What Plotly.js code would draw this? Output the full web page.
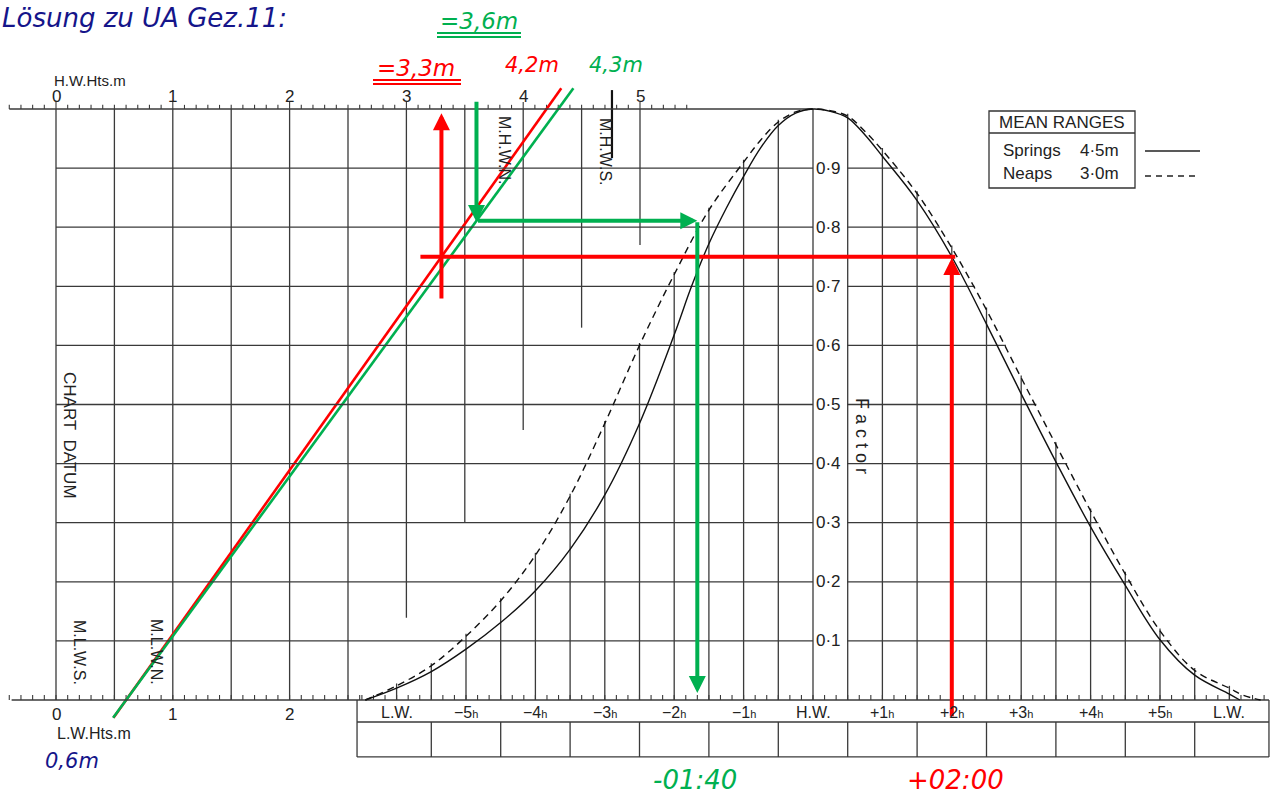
<!DOCTYPE html>
<html><head><meta charset="utf-8">
<script src="https://cdn.plot.ly/plotly-3.0.1.min.js"></script>
<style>html,body{margin:0;padding:0;background:#fff}#chart{width:1274px;height:794px}</style>
</head><body><div id="chart"></div>
<script>
// ---------------- data ----------------
const heightTickValues = [0, 1, 2, 3, 4, 5];
const lowHeightTickValues = [0, 1, 2];
const heightGridLines = [0, 0.5, 1, 1.5, 2, 2.5, 3, 3.5, 4, 4.5, 5];
const heightGridBottom = [0, 0, 0, 0, 0, 0, 0.139, 0.30, 0.457, 0.63, 0.77];
const factorLevels = [0.1, 0.2, 0.3, 0.4, 0.5, 0.6, 0.7, 0.8, 0.9];
const factorLabels = ['0·1', '0·2', '0·3', '0·4', '0·5', '0·6', '0·7', '0·8', '0·9'];
const hourTicks = [-6, -5, -4, -3, -2, -1, 0, 1, 2, 3, 4, 5, 6];
const hourLabels = ['L.W.', '−5', '−4', '−3', '−2', '−1', 'H.W.', '+1', '+2', '+3', '+4', '+5', 'L.W.'];
const springsHours  = [-6.45, -6, -5.5, -5, -4.5, -4, -3.5, -3, -2.5, -2, -1.75, -1.5, -1.25, -1, -0.75, -0.5, -0.25, 0, 0.25, 0.5, 0.75, 1, 1.5, 2, 2.5, 3, 3.5, 4, 4.5, 5, 5.5, 6, 6.15];
const springsFactor = [0, 0.02, 0.048, 0.086, 0.131, 0.185, 0.255, 0.347, 0.468, 0.618, 0.70, 0.772, 0.832, 0.886, 0.935, 0.972, 0.993, 1.0, 0.996, 0.985, 0.956, 0.92, 0.845, 0.75, 0.636, 0.518, 0.403, 0.293, 0.194, 0.102, 0.042, 0.01, 0];
const neapsHours    = [-6.45, -6, -5.5, -5, -4.5, -4, -3.5, -3, -2.5, -2, -1.5, -1, -0.75, -0.5, -0.25, 0, 0.25, 0.5, 0.75, 1, 1.5, 2, 2.5, 3, 3.5, 4, 4.5, 5, 5.5, 6, 6.2, 6.45];
const neapsFactor   = [0, 0.024, 0.058, 0.108, 0.168, 0.245, 0.345, 0.468, 0.6, 0.72, 0.829, 0.91, 0.948, 0.978, 0.995, 1.0, 0.997, 0.988, 0.962, 0.93, 0.857, 0.765, 0.66, 0.545, 0.432, 0.32, 0.213, 0.117, 0.05, 0.02, 0.008, 0];
const lwHeight = 0.6;
const hwHeightRed = 4.2;
const hwHeightGreen = 4.3;
const redHeight = 3.3;
const redFactor = 0.75;
const redTime = 2.0;
const greenHeight = 3.6;
const greenTime = -1.667;
const mhwsHeight = 4.76;
const legendRows = [['Springs', '4·5m'], ['Neaps', '3·0m']];

// ---------------- geometry of the sheet ----------------
const W = 1274, H = 794;
const M0 = 56, PXM = 116.8, HW0 = 813, PXH = 69.4, F0 = 700, PXF = 591;
const xr = [(0 - M0) / PXM, (W - M0) / PXM];
const x2r = [(0 - HW0) / PXH, (W - HW0) / PXH];
const yr = [(F0 - H) / PXF, F0 / PXF];
const mToH = m => (M0 + PXM * m - HW0) / PXH;
const px = x => x / W, py = y => 1 - y / H;

const GRID = '#3a3a3a';
const RED = '#ff0000', GREEN = '#00b050', NAVY = '#15158a';
const CF = 'Liberation Sans, Arial, sans-serif';
const HF = 'DejaVu Sans, sans-serif';

function interp(xs, ys, x) {
  if (x <= xs[0]) return ys[0];
  for (let i = 0; i < xs.length - 1; i++) {
    if (x >= xs[i] && x <= xs[i + 1]) return ys[i] + (ys[i + 1] - ys[i]) * (x - xs[i]) / (xs[i + 1] - xs[i]);
  }
  return ys[ys.length - 1];
}
function segs(list) {
  const x = [], y = [];
  list.forEach(([x0, y0, x1, y1]) => { x.push(x0, x1, null); y.push(y0, y1, null); });
  return { x, y };
}
function lt(s, axis, color, width, dash, shape) {
  return { type: 'scatter', mode: 'lines', x: s.x, y: s.y, xaxis: axis, yaxis: 'y',
    line: { color, width, dash: dash || 'solid', shape: shape || 'linear', smoothing: 1.0 },
    hoverinfo: 'skip', showlegend: false, connectgaps: false };
}

const traces = [];
// height grid verticals
traces.push(lt(segs(heightGridLines.map((m, i) => [m, 1, m, heightGridBottom[i]])), 'x', GRID, 1.3));
// rising-side horizontals + top and bottom axis lines
const hl = factorLevels.map(f => [mToH(0), f, 0, f]);
hl.push([mToH(-0.4), 1, 0, 1]);
hl.push([mToH(-0.38), 0, 6.57, 0]);
traces.push(lt(segs(hl), 'x2', GRID, 1.3));
// time grid verticals up to the curves
const tv = [];
for (let k = -12; k <= 12; k++) {
  if (k === 0) continue;
  const h = k / 2;
  tv.push([h, 0, h, Math.max(interp(springsHours, springsFactor, h), interp(neapsHours, neapsFactor, h)) + 0.004]);
}
tv.push([0, 0, 0, 1]);
traces.push(lt(segs(tv), 'x2', GRID, 1.3));
// falling-side horizontals, ending at the curves
const i0 = neapsHours.indexOf(0);
const fh = factorLevels.map(f => {
  let hEnd = 0;
  for (let i = i0; i < neapsHours.length - 1; i++) {
    if (neapsFactor[i] >= f && neapsFactor[i + 1] <= f) {
      hEnd = neapsHours[i] + (neapsFactor[i] - f) / (neapsFactor[i] - neapsFactor[i + 1]) * (neapsHours[i + 1] - neapsHours[i]);
      break;
    }
  }
  return [0.49, f, hEnd + 0.02, f];
});
traces.push(lt(segs(fh), 'x2', GRID, 1.3));
// ticks
const tk = [];
for (let k = -4; k <= 54; k++) { const m = k / 10; tk.push([m, 1, m, 1 + (k % 10 === 0 ? 0.012 : 0.007)]); }
for (let k = -4; k <= 26; k++) { const m = k / 10; tk.push([m, 0, m, 0.0085]); }
traces.push(lt(segs(tk), 'x', GRID, 1.1));
const tk2 = [];
for (let k = -39; k <= 39; k++) { const h = k / 6; tk2.push([h, 0, h, 0.0085]); }
traces.push(lt(segs(tk2), 'x2', GRID, 1.1));
// time table
const tb = [[-6.57, 0, -6.57, -0.0964], [6.57, 0, 6.57, -0.0964], [-6.57, -0.0372, 6.57, -0.0372], [-6.57, -0.0964, 6.57, -0.0964]];
for (let k = -11; k <= 11; k += 2) tb.push([k / 2, -0.0372, k / 2, -0.0964]);
traces.push(lt(segs(tb), 'x2', GRID, 1.3));
// MHWS mark
traces.push(lt(segs([[mhwsHeight, 1.032, mhwsHeight, 0.917]]), 'x', '#111', 2.2));
// curves
traces.push(lt({ x: springsHours, y: springsFactor }, 'x2', '#111', 1.4, 'solid', 'spline'));
traces.push(lt({ x: neapsHours, y: neapsFactor }, 'x2', '#111', 1.4, '7px,5px', 'spline'));
// range diagonals
const diag = (lw, hw) => segs([[lw + (hw - lw) * -0.03, -0.03, lw + (hw - lw) * 1.035, 1.035]]);
traces.push(lt(diag(lwHeight, hwHeightRed), 'x', RED, 2.6));
traces.push(lt(diag(lwHeight, hwHeightGreen), 'x', GREEN, 2.6));
// red horizontal
traces.push(lt(segs([[mToH(redHeight - 0.18), redFactor, redTime + 0.05, redFactor]]), 'x2', RED, 4));

// ---------------- annotations ----------------
const ann = [];
function txt(x, y, text, opt) { ann.push(Object.assign({ x, y, text, showarrow: false, xanchor: 'center', yanchor: 'middle' }, opt)); }
const greenFactor = (greenHeight - lwHeight) / (hwHeightGreen - lwHeight);
function arrow(xref, x, y, ax, ay, color) {
  ann.push({ xref, yref: 'y', axref: xref, ayref: 'y', x, y, ax, ay, text: '', showarrow: true,
    arrowhead: 2, arrowsize: 0.85, arrowwidth: 4, arrowcolor: color, standoff: 0 });
}
arrow('x', redHeight, 0.993, redHeight, redFactor - 0.073, RED);
arrow('x2', redTime, redFactor - 0.002, redTime, -0.03, RED);
arrow('x', greenHeight, greenFactor - 0.002, greenHeight, 1.015, GREEN);
arrow('x2', greenTime, greenFactor, mToH(greenHeight), greenFactor, GREEN);
arrow('x2', greenTime, 0.012, greenTime, greenFactor, GREEN);

const cfont = { family: CF, size: 17, color: '#222' };
heightTickValues.forEach(m => txt(m, 1.022, String(m), { xref: 'x', yref: 'y', font: cfont }));
lowHeightTickValues.forEach(m => txt(m, -0.024, String(m), { xref: 'x', yref: 'y', font: cfont }));
factorLevels.forEach((f, i) => txt(0.23, f, factorLabels[i], { xref: 'x2', yref: 'y', font: cfont }));
hourTicks.forEach((h, i) => {
  const lab = (h === 0 || Math.abs(h) === 6) ? hourLabels[i] : hourLabels[i] + "<span style='font-size:11px'>h</span>";
  txt(h, -0.021, lab, { xref: 'x2', yref: 'y', font: { family: CF, size: 16, color: '#222' } });
});
const P = { xref: 'paper', yref: 'paper' };
txt(px(52), py(80), 'H.W.Hts.m', Object.assign({ xanchor: 'left', font: { family: CF, size: 15, color: '#222' } }, P));
txt(px(55), py(733), 'L.W.Hts.m', Object.assign({ xanchor: 'left', font: { family: CF, size: 16, color: '#222' } }, P));
txt(px(70), py(435), 'CHART  DATUM', Object.assign({ textangle: 90, font: { family: CF, size: 17, color: '#222' } }, P));
txt(px(862), py(436), 'F a c t o r', Object.assign({ textangle: 90, font: { family: CF, size: 18, color: '#222' } }, P));
txt(px(80), py(652), 'M.L.W.S.', Object.assign({ textangle: 90, font: { family: CF, size: 16, color: '#222' } }, P));
txt(px(157), py(652), 'M.L.W.N.', Object.assign({ textangle: 90, font: { family: CF, size: 16, color: '#222' } }, P));
txt(px(505), py(150), 'M.H.W.N.', Object.assign({ textangle: 90, font: { family: CF, size: 16, color: '#222' } }, P));
txt(px(606), py(152), 'M.H.W.S.', Object.assign({ textangle: 90, font: { family: CF, size: 16, color: '#222' } }, P));
// legend
txt(px(1062), py(123), 'MEAN RANGES', Object.assign({ font: { family: CF, size: 17, color: '#222' } }, P));
legendRows.forEach((r, i) => {
  txt(px(1001), py(150 + i * 23), r[0], Object.assign({ xanchor: 'left', font: { family: CF, size: 17, color: '#222' } }, P));
  txt(px(1078), py(150 + i * 23), r[1], Object.assign({ xanchor: 'left', font: { family: CF, size: 17, color: '#222' } }, P));
});
// handwritten solution notes
const hw = (size, color) => ({ family: HF, size, color, style: 'italic' });
txt(px(0), py(18), 'Lösung zu UA Gez.11:', Object.assign({ xanchor: 'left', font: hw(26, NAVY) }, P));
txt(px(479), py(21), '=3,6m', Object.assign({ font: hw(23, GREEN) }, P));
txt(px(416), py(68), '=3,3m', Object.assign({ font: hw(23, RED) }, P));
txt(px(532), py(65), '4,2m', Object.assign({ font: hw(21, RED) }, P));
txt(px(616), py(65), '4,3m', Object.assign({ font: hw(21, GREEN) }, P));
txt(px(72), py(761), '0,6m', Object.assign({ font: hw(21, NAVY) }, P));
txt(px(695), py(780), '-01:40', Object.assign({ font: hw(26, GREEN) }, P));
txt(px(955), py(780), '+02:00', Object.assign({ font: hw(26, RED) }, P));

const L = (x0, y0, x1, y1, color, width, dash) => ({ type: 'line', xref: 'paper', yref: 'paper', x0: px(x0), y0: py(y0), x1: px(x1), y1: py(y1), line: { color, width, dash: dash || 'solid' } });
const shapes = [
  { type: 'rect', xref: 'paper', yref: 'paper', x0: px(989), x1: px(1135), y0: py(111), y1: py(188), line: { color: '#333', width: 1.3 } },
  L(989, 133, 1135, 133, '#333', 1.3),
  L(1145, 151, 1200, 151, '#222', 1.4),
  L(1145, 176, 1200, 176, '#222', 1.4, '6px,5px'),
  L(437, 33, 521, 33, GREEN, 2), L(437, 37, 521, 37, GREEN, 2),
  L(373, 80, 461, 80, RED, 2), L(373, 84, 461, 84, RED, 2)
];

const layout = {
  width: W, height: H, margin: { l: 0, r: 0, t: 0, b: 0 },
  paper_bgcolor: '#fff', plot_bgcolor: '#fff', showlegend: false,
  xaxis: { range: xr, visible: false, fixedrange: true },
  xaxis2: { range: x2r, visible: false, overlaying: 'x', fixedrange: true },
  yaxis: { range: yr, visible: false, fixedrange: true },
  annotations: ann, shapes: shapes
};
Plotly.newPlot('chart', traces, layout, { staticPlot: true, displayModeBar: false });
</script>
</body></html>
